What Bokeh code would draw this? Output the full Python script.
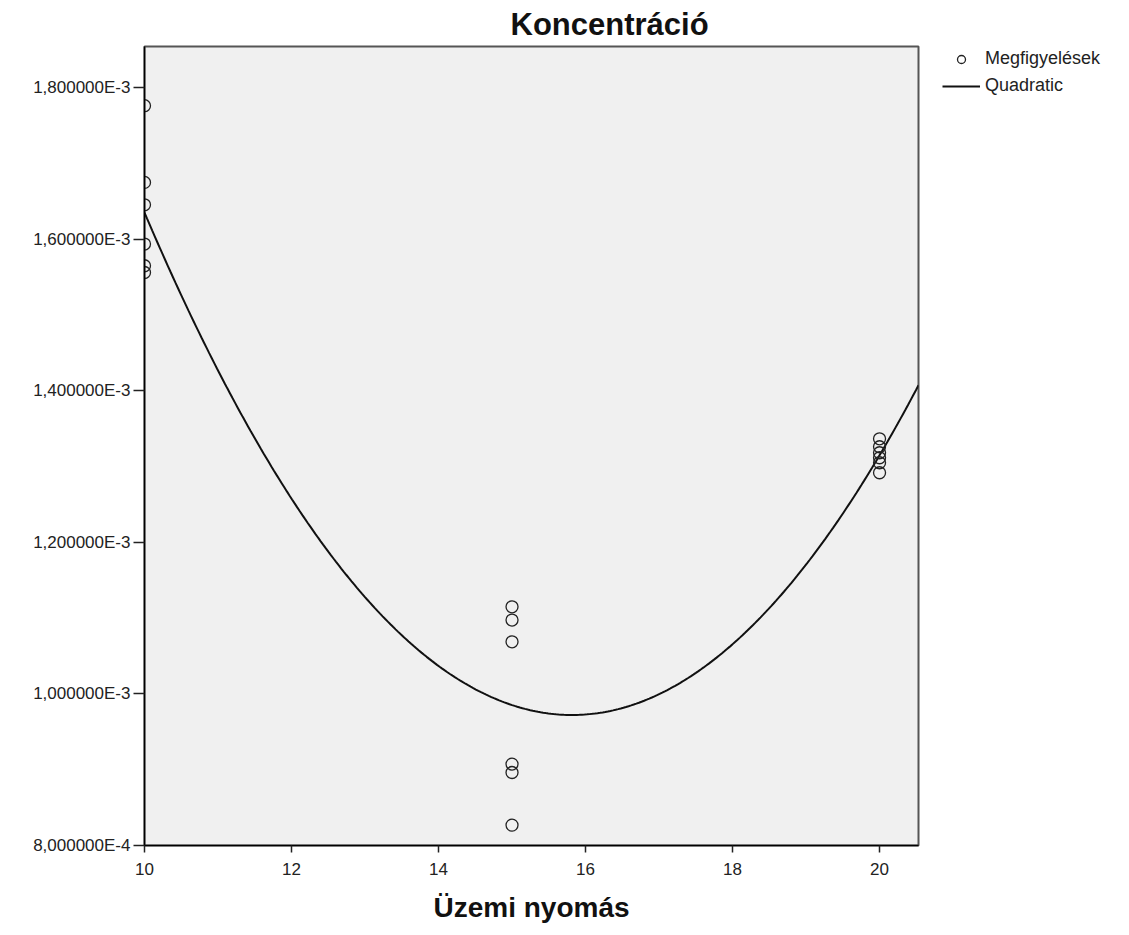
import numpy as np
from bokeh.plotting import figure
from bokeh.models import Legend, LegendItem, FixedTicker, Range1d
from bokeh.embed import file_html
from bokeh.resources import INLINE

# ---- data ----
pressure_10 = [10, 10, 10, 10, 10, 10]
conc_10 = [1.7759e-3, 1.6747e-3, 1.6452e-3, 1.5934e-3, 1.5648e-3, 1.5559e-3]
pressure_15 = [15, 15, 15, 15, 15, 15]
conc_15 = [1.1149e-3, 1.0974e-3, 1.0687e-3, 0.9074e-3, 0.8963e-3, 0.8269e-3]
pressure_20 = [20, 20, 20, 20, 20, 20]
conc_20 = [1.3365e-3, 1.3260e-3, 1.3181e-3, 1.3115e-3, 1.3049e-3, 1.2917e-3]

x_ticks = [10, 12, 14, 16, 18, 20]
y_ticks = [0.0008, 0.001, 0.0012, 0.0014, 0.0016, 0.0018]
y_tick_labels = ["8,000000E-4", "1,000000E-3", "1,200000E-3",
                 "1,400000E-3", "1,600000E-3", "1,800000E-3"]

title_text = "Koncentráció"
x_label = "Üzemi nyomás"
legend_obs = "Megfigyelések"
legend_fit = "Quadratic"

x_all = np.array(pressure_10 + pressure_15 + pressure_20, dtype=float)
y_all = np.array(conc_10 + conc_15 + conc_20, dtype=float)

# quadratic fit computed from observations
coef = np.polyfit(x_all, y_all, 2)
x_min, x_max = 10.0, 20.53
y_min, y_max = 0.0008, 0.001854
xs = np.linspace(x_min, x_max, 300)
ys = np.polyval(coef, xs)

FONT = "Liberation Sans"

p = figure(frame_width=774, frame_height=799, output_backend="svg",
           toolbar_location=None,
           x_range=Range1d(x_min, x_max), y_range=Range1d(y_min, y_max),
           min_border_left=144, min_border_right=211, min_border_top=46,
           min_border_bottom=90)

p.background_fill_color = "#f0f0f0"
p.border_fill_color = "white"
p.outline_line_color = "#555555"
p.outline_line_width = 2
p.xgrid.visible = False
p.ygrid.visible = False

# title
p.title.text = title_text
p.title.text_font = FONT
p.title.text_font_size = "31px"
p.title.text_font_style = "bold"
p.title.text_color = "#111111"
p.title.align = "left"
p.title.offset = 366
p.title.standoff = 9

# axes
for ax in (p.xaxis[0], p.yaxis[0]):
    ax.axis_line_color = "black"
    ax.axis_line_width = 1.5
    ax.major_tick_line_color = "#222222"
    ax.major_tick_line_width = 1.5
    ax.major_tick_in = 0
    ax.minor_tick_line_color = None
    ax.major_label_text_font = FONT
    ax.major_label_text_font_size = "17px"
    ax.major_label_text_color = "#222222"

p.xaxis.ticker = FixedTicker(ticks=x_ticks)
p.xaxis.major_tick_out = 7
p.xaxis.major_label_standoff = 10
p.xaxis.axis_label = x_label
p.xaxis.axis_label_text_font = FONT
p.xaxis.axis_label_text_font_size = "28px"
p.xaxis.axis_label_text_font_style = "bold"
p.xaxis.axis_label_text_color = "#111111"
p.xaxis.axis_label_standoff = 14

p.yaxis.ticker = FixedTicker(ticks=y_ticks)
p.yaxis.major_label_overrides = {t: l for t, l in zip(y_ticks, y_tick_labels)}
p.yaxis.major_tick_out = 11
p.yaxis.major_label_standoff = 3

# fit line and observations
line_r = p.line(xs, ys, line_color="#111111", line_width=2)
sc = p.scatter(x_all, y_all, marker="circle", size=12, fill_color=None,
               line_color="#222222", line_width=1.3)

legend = Legend(items=[LegendItem(label=legend_obs, renderers=[sc]),
                       LegendItem(label=legend_fit, renderers=[line_r])],
                location=(24, 749), padding=0, margin=0, spacing=6,
                glyph_width=38, glyph_height=20, label_standoff=5,
                label_text_font=FONT, label_text_font_size="18px",
                label_text_color="#222222", border_line_color=None,
                background_fill_alpha=0)
p.add_layout(legend, "right")

open("out.html", "w").write(file_html(p, INLINE))
